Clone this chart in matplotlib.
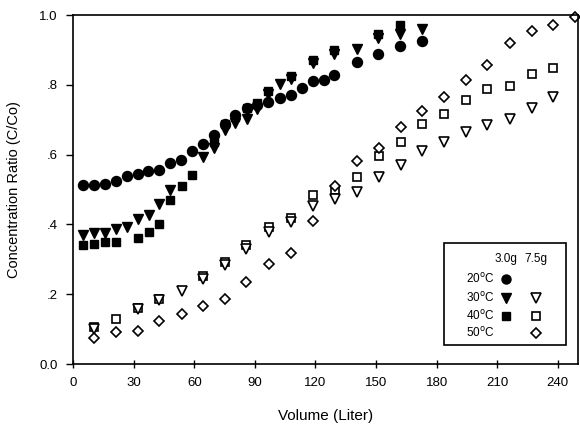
import matplotlib
matplotlib.use('Agg')
import matplotlib.pyplot as plt

plt.rcParams['font.family'] = ['Liberation Sans', 'DejaVu Sans']

# 20 C, 3.0 g  (filled circles)
x20 = [4.8, 10.2, 15.7, 21.1, 26.5, 31.9, 37.2, 42.6, 48.0, 53.5, 58.9, 64.3, 69.6, 75.1,
       80.3, 85.9, 91.2, 96.6, 102.2, 107.7, 113.3, 118.7, 124.0, 129.2, 140.4, 151.1, 162.1, 172.8]
y20 = [.514, .513, .517, .525, .538, .544, .552, .557, .576, .586, .609, .631, .656, .688,
       .714, .733, .743, .750, .761, .772, .790, .810, .814, .827, .865, .888, .911, .925]

# 30 C, 3.0 g  (filled triangles)
x30a = [4.8, 10.2, 15.7, 21.1, 26.5, 31.9, 37.4, 42.6, 47.9, 64.2, 69.6, 75.1, 80.3, 85.9,
        91.2, 96.6, 102.2, 107.7, 118.7, 129.2, 140.4, 151.1, 162.1, 172.8]
y30a = [.371, .375, .376, .386, .392, .416, .428, .459, .499, .594, .619, .670, .692, .702,
        .730, .775, .802, .816, .864, .888, .902, .933, .945, .959]

# 40 C, 3.0 g  (filled squares)
x40a = [4.8, 10.2, 15.7, 21.1, 31.9, 37.4, 42.6, 47.9, 53.8, 59.1, 69.6, 75.1, 80.3, 85.9,
        91.2, 96.6, 107.7, 118.7, 129.2, 151.1, 162.1]
y40a = [.340, .343, .351, .349, .360, .379, .400, .470, .511, .542, .635, .688, .709, .734,
        .747, .783, .826, .870, .899, .945, .971]

# 30 C, 7.5 g  (open triangles)
x30b = [10.4, 31.9, 42.6, 53.7, 64.3, 75.1, 85.8, 96.9, 107.7, 118.7, 129.7, 140.4, 151.3,
        162.3, 172.7, 183.4, 194.4, 205.1, 216.1, 227.0, 237.7]
y30b = [.100, .158, .183, .209, .245, .285, .330, .378, .407, .452, .472, .494, .537,
        .571, .609, .635, .666, .686, .702, .735, .764]

# 40 C, 7.5 g  (open squares)
x40b = [10.4, 21.2, 31.9, 42.6, 64.3, 75.1, 85.8, 96.9, 107.7, 118.7, 129.7, 140.4, 151.3,
        162.3, 172.7, 183.4, 194.4, 205.1, 216.1, 227.0, 237.7]
y40b = [.107, .128, .161, .186, .251, .293, .340, .394, .419, .485, .500, .535, .595,
        .635, .688, .716, .756, .788, .797, .831, .847]

# 50 C, 7.5 g  (open diamonds)
x50b = [10.4, 21.2, 31.9, 42.6, 53.7, 64.3, 75.1, 85.8, 96.9, 107.7, 118.7, 129.7, 140.4,
        151.3, 162.3, 172.7, 183.4, 194.4, 205.1, 216.1, 227.0, 237.7, 248.4]
y50b = [.075, .091, .095, .124, .143, .166, .186, .236, .286, .318, .410, .509, .581,
        .619, .678, .726, .765, .813, .856, .921, .954, .971, .995]

xticks = [0, 30, 60, 90, 120, 150, 180, 210, 240]
yticks = [0.0, 0.2, 0.4, 0.6, 0.8, 1.0]
ytick_labels = ['0.0', '.2', '.4', '.6', '.8', '1.0']

fig = plt.figure(figsize=(5.8, 4.24), dpi=100)
ax = fig.add_axes([0.126, 0.1415, 0.8706, 0.823])

filled = dict(linestyle='none', color='black')
hollow = dict(linestyle='none', markerfacecolor='white', markeredgecolor='black', markeredgewidth=1.2)

ax.plot(x20, y20, marker='o', markersize=7.2, **filled)
ax.plot(x40a, y40a, marker='s', markersize=6.2, **filled)
ax.plot(x30a, y30a, marker='v', markersize=7.8, **filled)
ax.plot(x40b, y40b, marker='s', markersize=6, **hollow)
ax.plot(x30b, y30b, marker='v', markersize=7.2, **hollow)
ax.plot(x50b, y50b, marker='D', markersize=5.6, clip_on=False, **hollow)

ax.set_xlim(0, 250)
ax.set_ylim(0, 1.0)
ax.set_xticks(xticks)
ax.set_yticks(yticks)
ax.set_yticklabels(ytick_labels)
ax.tick_params(axis='y', direction='out', length=5, width=1, labelsize=9.5, pad=6)
ax.tick_params(axis='x', direction='inout', length=6, width=1, labelsize=9.5, pad=6)
for s in ax.spines.values():
    s.set_linewidth(1.2)

ax.set_xlabel('Volume (Liter)', fontsize=11, labelpad=15)
ax.set_ylabel('Concentration Ratio (C/Co)', fontsize=10.5, labelpad=13)

# hand-made legend box
box = plt.Rectangle((0.735, 0.054), 0.241, 0.294, transform=ax.transAxes,
                    facecolor='white', edgecolor='black', linewidth=1.2, zorder=5)
ax.add_patch(box)
c1, c2 = 0.858, 0.917
ax.text(c1, 0.302, '3.0g', transform=ax.transAxes, ha='center', va='center', fontsize=8.5, zorder=6)
ax.text(c2, 0.302, '7.5g', transform=ax.transAxes, ha='center', va='center', fontsize=8.5, zorder=6)
rows = ['20$^{\\mathrm{o}}$C', '30$^{\\mathrm{o}}$C', '40$^{\\mathrm{o}}$C', '50$^{\\mathrm{o}}$C']
row_y = [0.243, 0.190, 0.138, 0.090]
for lab, yy in zip(rows, row_y):
    ax.text(0.834, yy, lab, transform=ax.transAxes, ha='right', va='center', fontsize=8.5, zorder=6)
kw = dict(transform=ax.transAxes, zorder=7, clip_on=False)
ax.plot(c1, row_y[0], marker='o', markersize=6.5, **filled, **kw)
ax.plot(c1, row_y[1], marker='v', markersize=7, **filled, **kw)
ax.plot(c2, row_y[1], marker='v', markersize=7, **hollow, **kw)
ax.plot(c1, row_y[2], marker='s', markersize=6, **filled, **kw)
ax.plot(c2, row_y[2], marker='s', markersize=6, **hollow, **kw)
ax.plot(c2, row_y[3], marker='D', markersize=5.5, **hollow, **kw)

fig.savefig('out.png', dpi=100)
